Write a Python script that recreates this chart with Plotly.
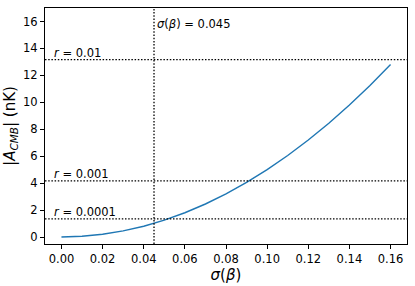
import plotly.graph_objects as go

# curve values
sigma_beta = [0.00, 0.01, 0.02, 0.03, 0.04, 0.05, 0.06, 0.07, 0.08,
              0.09, 0.10, 0.11, 0.12, 0.13, 0.14, 0.15, 0.16]
a_cmb = [0.0, 0.05, 0.2, 0.45, 0.8, 1.25, 1.8, 2.45, 3.2,
         4.05, 5.0, 6.05, 7.2, 8.45, 9.8, 11.25, 12.8]

# reference levels
r_labels = ["0.01", "0.001", "0.0001"]
r_levels = [13.17, 4.17, 1.34]
sigma_mark = 0.045

x_ticks = [0.00, 0.02, 0.04, 0.06, 0.08, 0.10, 0.12, 0.14, 0.16]
y_ticks = [0, 2, 4, 6, 8, 10, 12, 14, 16]

x_range = [-0.008, 0.168]
y_range = [-0.52, 17]

fig = go.Figure()
fig.add_trace(go.Scatter(x=sigma_beta, y=a_cmb, mode="lines",
                         line=dict(color="#1f77b4", width=1.4), showlegend=False))

for lab, lev in zip(r_labels, r_levels):
    fig.add_shape(type="line", xref="paper", x0=0, x1=1, yref="y", y0=lev, y1=lev,
                  line=dict(color="black", width=1.3, dash="1.5px,1.7px"))
    fig.add_annotation(x=-0.0045, y=lev, xref="x", yref="y", text="<i>r</i> = " + lab,
                       showarrow=False, xanchor="left", yanchor="bottom", yshift=-2,
                       font=dict(size=11.5, color="black"))

fig.add_shape(type="line", xref="x", x0=sigma_mark, x1=sigma_mark, yref="paper", y0=0, y1=1,
              line=dict(color="black", width=1.3, dash="1.5px,1.7px"))
fig.add_annotation(x=sigma_mark, y=15.8, xref="x", yref="y",
                   text="<i>σ</i>(<i>β</i>) = 0.045", showarrow=False,
                   xanchor="left", yanchor="middle", xshift=1,
                   font=dict(size=11.5, color="black"))

axis_common = dict(showline=True, linecolor="black", linewidth=1, mirror=True,
                   ticks="outside", ticklen=4, tickcolor="black", showgrid=False,
                   zeroline=False, tickfont=dict(size=11.5, color="black"))

fig.update_xaxes(range=x_range, tickvals=x_ticks, tickformat=".2f",
                 title=dict(text="<i>σ</i>(<i>β</i>)", font=dict(size=15, color="black"), standoff=1),
                 **axis_common)
fig.update_yaxes(range=y_range, tickvals=y_ticks,
                 title=dict(text="|<i>A</i><sub><i>CMB</i></sub>| (nK)", font=dict(size=15, color="black"), standoff=3),
                 **axis_common)

fig.update_layout(width=415, height=286, margin=dict(l=45, r=8, t=8, b=42),
                  plot_bgcolor="white", paper_bgcolor="white",
                  font=dict(family="DejaVu Sans", color="black"))

fig.write_html("out.html", config={"displayModeBar": False},
               post_script="document.body.style.margin='0';")
